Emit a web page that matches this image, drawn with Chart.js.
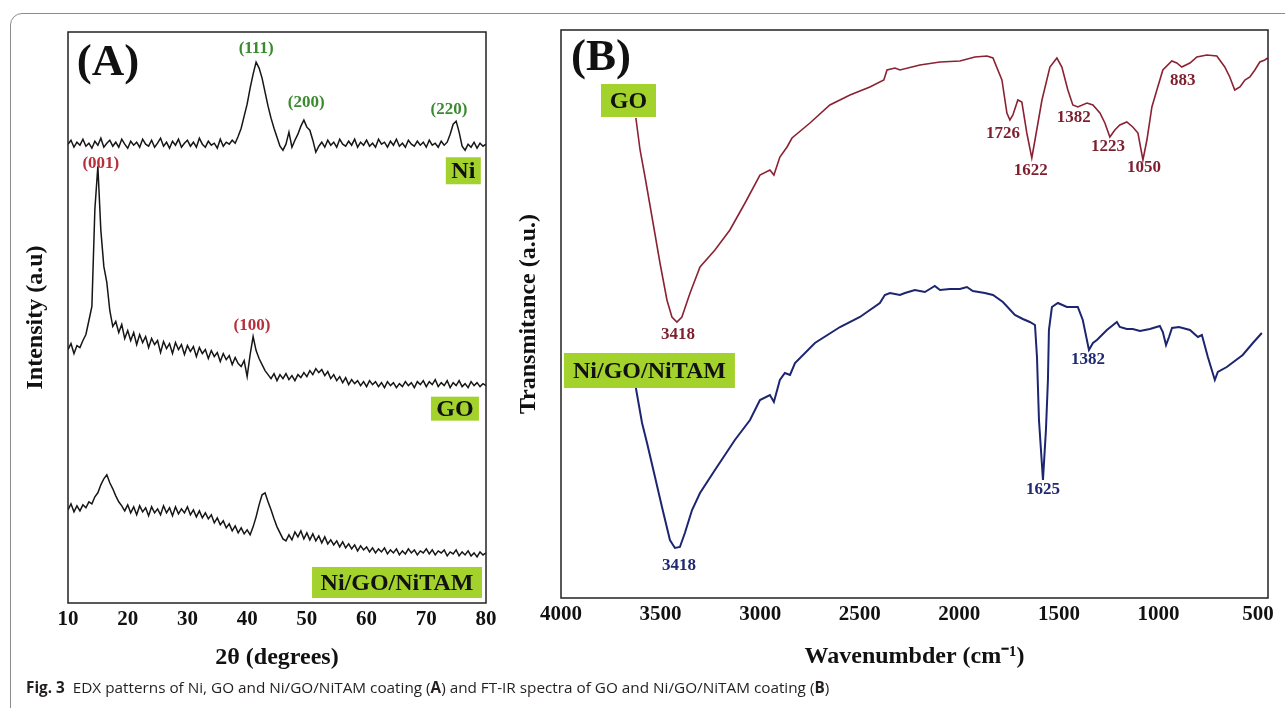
<!DOCTYPE html>
<html>
<head>
<meta charset="utf-8">
<title>Fig. 3 EDX / FT-IR</title>
<script src="https://cdn.jsdelivr.net/npm/chart.js@4.4.1/dist/chart.umd.min.js"></script>
<style>
    html, body { margin: 0; padding: 0; background: #fff; width: 1285px; height: 708px; overflow: hidden; }
    #frame { position: absolute; left: 10px; top: 13px; width: 1400px; height: 800px; box-sizing: border-box;
             border: 1.5px solid #8c8c8c; border-radius: 12px; }
    #chartA { position: absolute; left: 0; top: 0; }
    #chartB { position: absolute; left: 500px; top: 0; }
    #caption { position: absolute; left: 26px; top: 677px; font: 15.3px "Open Sans", sans-serif; color: #231f20; white-space: nowrap; }
    #caption b { font-weight: 700; }
</style>
</head>
<body>
<div id="frame"></div>
<canvas id="chartA" width="500" height="700"></canvas>
<canvas id="chartB" width="785" height="700"></canvas>
<div id="caption"><b>Fig. 3</b>&nbsp;&nbsp;EDX patterns of Ni, GO and Ni/GO/NiTAM coating (<b>A</b>) and FT-IR spectra of GO and Ni/GO/NiTAM coating (<b>B</b>)</div>

<script>
// ---- (A) XRD data, 2θ in degrees, intensity in arbitrary units (traces stacked) ----
const twoTheta = [
    10, 10.5, 11, 11.5, 12, 12.5, 13, 13.5, 14, 14.5,
    15, 15.5, 16, 16.5, 17, 17.5, 18, 18.5, 19, 19.5,
    20, 20.5, 21, 21.5, 22, 22.5, 23, 23.5, 24, 24.5,
    25, 25.5, 26, 26.5, 27, 27.5, 28, 28.5, 29, 29.5,
    30, 30.5, 31, 31.5, 32, 32.5, 33, 33.5, 34, 34.5,
    35, 35.5, 36, 36.5, 37, 37.5, 38, 38.5, 39, 39.5,
    40, 40.5, 41, 41.5, 42, 42.5, 43, 43.5, 44, 44.5,
    45, 45.5, 46, 46.5, 47, 47.5, 48, 48.5, 49, 49.5,
    50, 50.5, 51, 51.5, 52, 52.5, 53, 53.5, 54, 54.5,
    55, 55.5, 56, 56.5, 57, 57.5, 58, 58.5, 59, 59.5,
    60, 60.5, 61, 61.5, 62, 62.5, 63, 63.5, 64, 64.5,
    65, 65.5, 66, 66.5, 67, 67.5, 68, 68.5, 69, 69.5,
    70, 70.5, 71, 71.5, 72, 72.5, 73, 73.5, 74, 74.5,
    75, 75.5, 76, 76.5, 77, 77.5, 78, 78.5, 79, 79.5,
    80
];
const niCounts = [
    458, 462, 455, 460, 457, 463, 456, 459, 454, 461,
    457, 464, 455, 459, 462, 456, 460, 455, 463, 458,
    454, 461, 457, 460, 455, 463, 458, 456, 462, 455,
    459, 464, 456, 460, 454, 461, 457, 463, 455, 459,
    462, 456, 460, 455, 464, 458, 455, 461, 457, 459,
    454, 463, 456, 460, 458, 462, 459, 466, 474, 486,
    498, 514, 528, 540, 534, 524, 510, 496, 484, 474,
    465, 456, 452, 458, 470, 455, 462, 468, 476, 482,
    475, 472, 462, 450, 456, 460, 455, 462, 457, 460,
    455, 463, 458, 456, 461, 457, 463, 455, 460, 457,
    462, 456, 459, 455, 463, 458, 460, 455, 461, 457,
    463, 456, 459, 455, 462, 458, 456, 461, 457, 460,
    455, 462, 457, 459, 455, 461, 457, 460, 468, 478,
    481, 470, 456, 452, 458, 455, 460, 454, 459, 456,
    458
];
const goCounts = [
    253, 259, 249, 257, 255, 262, 268, 282, 296, 393,
    436, 372, 336, 320, 292, 276, 281, 270, 278, 264,
    272, 262, 270, 258, 268, 260, 266, 255, 264, 258,
    262, 250, 261, 254, 259, 249, 260, 253, 258, 248,
    257, 251, 256, 246, 255, 249, 253, 244, 252, 246,
    250, 241, 249, 243, 247, 238, 245, 239, 236, 242,
    226, 248, 266, 252, 244, 238, 232, 228, 224, 229,
    222, 228, 224, 229, 223, 227, 222, 228, 225, 230,
    226, 232, 228, 234, 230, 233, 227, 231, 224, 228,
    222, 226, 220, 225, 218, 223, 219, 222, 217, 221,
    216, 222, 218, 221, 216, 220, 215, 221, 217, 220,
    215, 219, 216, 221, 217, 220, 215, 221, 218, 222,
    216, 221, 218, 223, 216, 220, 217, 222, 215, 220,
    217, 222, 216, 219, 215, 221, 217, 220, 216, 219,
    217
];
const nitamCounts = [
    93, 99, 91, 97, 92, 98, 95, 101, 99, 106,
    110, 118, 124, 128, 120, 114, 107, 101, 97, 92,
    98, 90, 96, 88, 97, 91, 95, 87, 96, 90,
    94, 88, 97, 90, 95, 87, 96, 89, 94, 90,
    96, 88, 93, 86, 92, 85, 90, 84, 88, 80,
    85, 78, 82, 75, 79, 72, 77, 70, 75, 69,
    73, 68, 76, 86, 98, 108, 110, 101, 93, 84,
    76, 70, 64, 62, 68, 63, 71, 66, 72, 64,
    70, 63, 69, 62, 67, 60, 66, 59, 63, 58,
    62, 56, 61, 55, 59, 54, 58, 52, 57, 53,
    56, 51, 55, 50, 54, 51, 55, 49, 53, 50,
    54, 48, 52, 49, 54, 50, 53, 48, 52, 50,
    54, 49, 53, 48, 52, 50, 53, 47, 51, 49,
    53, 47, 51, 48, 52, 47, 50, 46, 51, 48,
    50
];
const thetaTicks = [10, 20, 30, 40, 50, 60, 70, 80];

// ---- (B) FT-IR data, wavenumber in cm-1, transmittance in arbitrary units (traces stacked) ----
const goWave = [
    3624, 3603, 3578, 3543, 3503, 3468, 3443, 3418, 3393, 3352,
    3302, 3227, 3152, 3076, 3001, 2951, 2931, 2901, 2865, 2840,
    2750, 2650, 2549, 2449, 2379, 2363, 2323, 2298, 2198, 2097,
    1997, 1922, 1861, 1831, 1786, 1761, 1746, 1731, 1706, 1686,
    1661, 1636, 1620, 1585, 1545, 1510, 1485, 1455, 1430, 1405,
    1359, 1329, 1294, 1269, 1244, 1219, 1194, 1159, 1129, 1103,
    1078, 1058, 1033, 1008, 978, 933, 908, 883, 842, 807,
    757, 707, 667, 642, 617, 591, 566, 541, 516, 491,
    466, 451
];
const goTrans = [
    480, 448, 421, 381, 335, 298, 281, 276, 281, 305,
    331, 348, 368, 395, 423, 428, 423, 441, 451, 460,
    475, 493, 503, 511, 518, 528, 530, 528, 533, 536,
    537, 541, 542, 540, 518, 485, 478, 483, 498, 496,
    465, 440, 458, 498, 531, 540, 531, 508, 493, 491,
    495, 493, 485, 475, 461, 468, 473, 476, 471, 465,
    438, 458, 491, 508, 528, 537, 535, 531, 535, 541,
    543, 542, 531, 521, 508, 511, 518, 521, 528, 536,
    538, 540
];
const nitamWave = [
    3624, 3593, 3568, 3528, 3493, 3453, 3428, 3403, 3378, 3342,
    3302, 3227, 3127, 3051, 3001, 2951, 2931, 2901, 2876, 2850,
    2825, 2725, 2599, 2499, 2399, 2374, 2348, 2298, 2273, 2223,
    2173, 2148, 2123, 2097, 2047, 1997, 1962, 1932, 1872, 1831,
    1781, 1721, 1681, 1646, 1620, 1610, 1600, 1580, 1565, 1555,
    1550, 1535, 1505, 1460, 1405, 1380, 1349, 1329, 1309, 1259,
    1209, 1194, 1159, 1129, 1093, 1043, 993, 978, 962, 947,
    932, 897, 842, 802, 782, 752, 717, 702, 657, 577,
    526, 481
];
const nitamTrans = [
    210, 175, 155, 121, 91, 58, 50, 51, 65, 88,
    105, 128, 158, 178, 198, 203, 196, 218, 225, 223,
    235, 255, 271, 281, 295, 303, 305, 303, 305, 308,
    306, 309, 312, 308, 309, 309, 311, 307, 305, 303,
    296, 283, 279, 276, 273, 241, 178, 118, 168, 218,
    268, 291, 295, 291, 291, 278, 248, 255, 258, 268,
    276, 271, 269, 269, 267, 269, 272, 266, 253, 261,
    270, 271, 268, 261, 263, 241, 218, 226, 231, 243,
    255, 265
];
const waveTicks = [4000, 3500, 3000, 2500, 2000, 1500, 1000, 500];

// ---- labels drawn on the plots (anchored in data units) ----
const panelANotes = [
    { text: '(A)', x: 16.7, y: 539, color: '#111111', size: 45 },
    { text: '(111)', x: 41.5, y: 553, color: '#3b8a30', size: 17 },
    { text: '(200)', x: 49.9, y: 500, color: '#3b8a30', size: 17 },
    { text: '(220)', x: 73.8, y: 493, color: '#3b8a30', size: 17 },
    { text: '(001)', x: 15.5, y: 439, color: '#b5303c', size: 17 },
    { text: '(100)', x: 40.8, y: 277, color: '#b5303c', size: 17 }
];
const panelABoxes = [
    { text: 'Ni', x: 76.2, y: 431.5, w: 35, h: 27 },
    { text: 'GO', x: 74.8, y: 194, w: 48, h: 24 },
    { text: 'Ni/GO/NiTAM', x: 65.1, y: 20.5, w: 170, h: 31 }
];
const panelBNotes = [
    { text: '(B)', x: 3799, y: 540, color: '#111111', size: 45 },
    { text: '3418', x: 3413, y: 263, color: '#7d1f2f', size: 17 },
    { text: '1726', x: 1781, y: 464, color: '#7d1f2f', size: 17 },
    { text: '1622', x: 1641, y: 427, color: '#7d1f2f', size: 17 },
    { text: '1382', x: 1425, y: 480, color: '#7d1f2f', size: 17 },
    { text: '1223', x: 1254, y: 451, color: '#7d1f2f', size: 17 },
    { text: '1050', x: 1073, y: 430, color: '#7d1f2f', size: 17 },
    { text: '883', x: 878, y: 517, color: '#7d1f2f', size: 17 },
    { text: '3418', x: 3408, y: 32, color: '#1f2a72', size: 17 },
    { text: '1625', x: 1580, y: 108, color: '#1f2a72', size: 17 },
    { text: '1382', x: 1354, y: 238, color: '#1f2a72', size: 17 }
];
const panelBBoxes = [
    { text: 'GO', x: 3661, y: 497.5, w: 55, h: 33 },
    { text: 'Ni/GO/NiTAM', x: 3556, y: 227.5, w: 171, h: 35 }
];

const SERIF = '"Liberation Serif", "Times New Roman", serif';
const LABEL_GREEN = '#a4d22d';

function toPoints(xs, ys) {
    return xs.map((x, i) => ({ x: x, y: ys[i] }));
}

// frame around the plot, green sample tags and peak labels
function marksPlugin(notes, boxes) {
    return {
        id: 'marks',
        afterDatasetsDraw(chart) {
            const { ctx, chartArea: area, scales } = chart;
            ctx.save();
            ctx.lineWidth = 1.5;
            ctx.strokeStyle = '#222';
            ctx.strokeRect(area.left, area.top, area.right - area.left, area.bottom - area.top);
            ctx.textAlign = 'center';
            ctx.textBaseline = 'middle';
            boxes.forEach(b => {
                const px = scales.x.getPixelForValue(b.x);
                const py = scales.y.getPixelForValue(b.y);
                ctx.fillStyle = LABEL_GREEN;
                ctx.fillRect(px - b.w / 2, py - b.h / 2, b.w, b.h);
                ctx.fillStyle = '#111';
                ctx.font = 'bold 24px ' + SERIF;
                ctx.fillText(b.text, px, py + 1);
            });
            notes.forEach(n => {
                ctx.fillStyle = n.color;
                ctx.font = 'bold ' + n.size + 'px ' + SERIF;
                ctx.fillText(n.text, scales.x.getPixelForValue(n.x), scales.y.getPixelForValue(n.y));
            });
            ctx.restore();
        }
    };
}

function axisFont(size) {
    return { family: SERIF, size: size, weight: 'bold' };
}

// plain numbers, no thousands separator
function plainTick(value) {
    return String(value);
}

// 1. XRD chart
new Chart(document.getElementById('chartA'), {
    type: 'line',
    data: {
        datasets: [
            { data: toPoints(twoTheta, niCounts), borderColor: '#161616', borderWidth: 1.5 },
            { data: toPoints(twoTheta, goCounts), borderColor: '#161616', borderWidth: 1.5 },
            { data: toPoints(twoTheta, nitamCounts), borderColor: '#161616', borderWidth: 1.5 }
        ]
    },
    options: {
        responsive: false,
        animation: false,
        events: [],
        elements: { point: { radius: 0 }, line: { tension: 0 } },
        layout: { padding: { top: 32, right: 14, bottom: 22, left: 0 } },
        plugins: { legend: { display: false }, tooltip: { enabled: false } },
        scales: {
            x: {
                type: 'linear',
                min: 10,
                max: 80,
                grid: { display: false },
                border: { display: false },
                afterBuildTicks: s => { s.ticks = thetaTicks.map(v => ({ value: v })); },
                ticks: { font: axisFont(21), color: '#111', padding: -4, maxRotation: 0, callback: plainTick },
                title: { display: true, text: '2θ (degrees)', font: axisFont(24), color: '#111', padding: { top: 0, bottom: 6 } },
                afterFit: s => { s.height = 75; s.paddingLeft = 0; s.paddingRight = 0; }
            },
            y: {
                min: 0,
                max: 570,
                grid: { display: false },
                border: { display: false },
                ticks: { display: false },
                title: { display: true, text: 'Intensity (a.u)', font: axisFont(24), color: '#111', padding: { top: 21, bottom: 0 } },
                afterFit: s => { s.width = 68; s.paddingTop = 0; s.paddingBottom = 0; }
            }
        }
    },
    plugins: [marksPlugin(panelANotes, panelABoxes)]
});

// 2. FT-IR chart
new Chart(document.getElementById('chartB'), {
    type: 'line',
    data: {
        datasets: [
            { data: toPoints(goWave, goTrans), borderColor: '#8a2233', borderWidth: 1.6 },
            { data: toPoints(nitamWave, nitamTrans), borderColor: '#1c2570', borderWidth: 2 }
        ]
    },
    options: {
        responsive: false,
        animation: false,
        events: [],
        elements: { point: { radius: 0 }, line: { tension: 0 } },
        layout: { padding: { top: 30, right: 17, bottom: 22, left: 0 } },
        plugins: { legend: { display: false }, tooltip: { enabled: false } },
        scales: {
            x: {
                type: 'linear',
                reverse: true,
                min: 450,
                max: 4000,
                grid: { display: false },
                border: { display: false },
                afterBuildTicks: s => { s.ticks = waveTicks.map(v => ({ value: v })); },
                ticks: { font: axisFont(21), color: '#111', padding: -4, maxRotation: 0, callback: plainTick },
                title: { display: true, text: 'Wavenumbder (cm⁻¹)', font: axisFont(24), color: '#111', padding: { top: 0, bottom: 7 } },
                afterFit: s => { s.height = 80; s.paddingLeft = 0; s.paddingRight = 0; }
            },
            y: {
                min: 0,
                max: 568,
                grid: { display: false },
                border: { display: false },
                ticks: { display: false },
                title: { display: true, text: 'Transmitance (a.u.)', font: axisFont(24), color: '#111', padding: { top: 14, bottom: 0 } },
                afterFit: s => { s.width = 61; s.paddingTop = 0; s.paddingBottom = 0; }
            }
        }
    },
    plugins: [marksPlugin(panelBNotes, panelBBoxes)]
});
</script>
</body>
</html>
